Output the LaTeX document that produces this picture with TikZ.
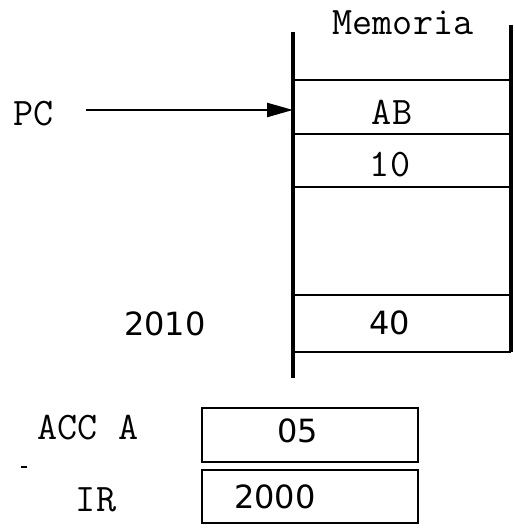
\documentclass[tikz,border=0pt]{standalone}
\usepackage{fontspec}
\newfontfamily\digitfont{DejaVu Sans}
\usetikzlibrary{arrows.meta}
\begin{document}
\begin{tikzpicture}[x=1pt,y=1pt,
  lbl/.style={font=\ttfamily\fontsize{39}{44}\selectfont, inner sep=0pt},
  num/.style={font=\digitfont\fontsize{32}{38}\selectfont, inner sep=0pt},
  memline/.style={line width=3.2pt},
  cellline/.style={line width=2.6pt},
  reg/.style={draw, line width=2.6pt, minimum width=216pt, inner sep=0pt},
  ptr/.style={line width=2.4pt, -{Triangle[length=26pt,width=14pt]}}]
\useasboundingbox (0,0) rectangle (514,530);
% memory column
\coordinate (mTL) at (293,498);
\coordinate (mBL) at (293,152);
\coordinate (mTR) at (511,505);
\coordinate (mBR) at (511,178);
\draw[memline] (mTL) -- (mBL);
\draw[memline] (mTR) -- (mBR);
\foreach \yy in {450,396,343,235,178}
  \draw[cellline] (293,\yy) -- (511,\yy);
\node[lbl] (mem) at (403,507) {Memoria};
\node[lbl] (ab) at (392,418) {AB};
\node[lbl] (ten) at (390,365) {10};
\node[num] (forty) at (390,207) {40};
\node[num] (addr) at (165,206) {2010};
% program counter
\node[lbl] (pc) at (34,416) {PC};
\coordinate (pctip) at (293,420);
\draw[ptr] ([xshift=32pt]pc.east |- pctip) -- (pctip);
% registers
\node[lbl] (acclbl) at (88,102) {ACC A};
\node[lbl] (irlbl) at (96,30) {IR};
\node[reg, minimum height=54pt] (acc) at (310,95) {};
\node[reg, minimum height=53pt] (ir) at (310,33.5) {};
\node[num] (accval) at (298,99) {05};
\node[num] (irval) at (275,33) {2000};
\draw[line width=2pt] (21,63) -- (27,63);
\end{tikzpicture}
\end{document}
